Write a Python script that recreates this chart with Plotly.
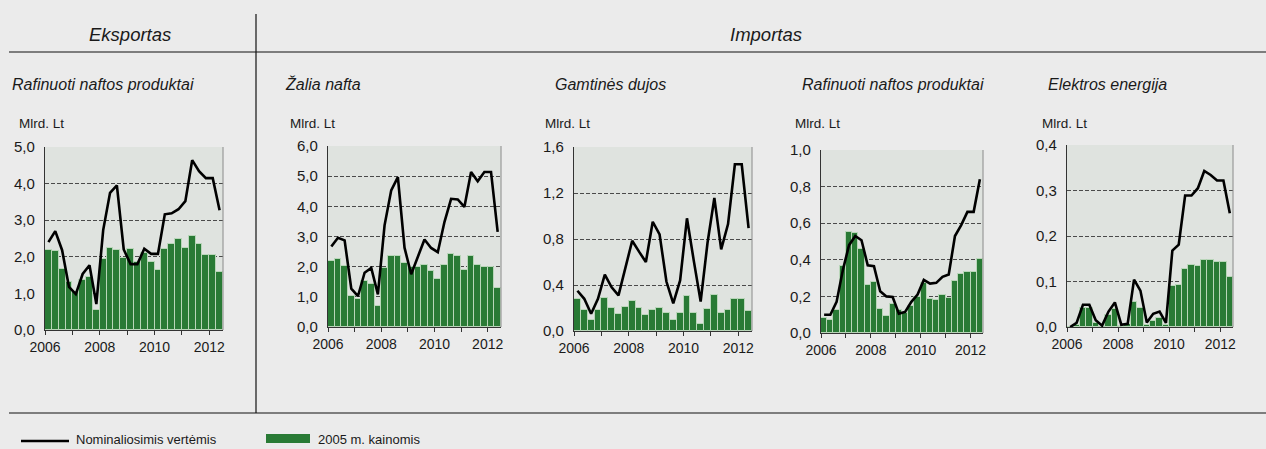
import plotly.graph_objects as go

# ---------------- data ----------------
quarters = ["2006Q1", "2006Q2", "2006Q3", "2006Q4", "2007Q1", "2007Q2", "2007Q3", "2007Q4",
            "2008Q1", "2008Q2", "2008Q3", "2008Q4", "2009Q1", "2009Q2", "2009Q3", "2009Q4",
            "2010Q1", "2010Q2", "2010Q3", "2010Q4", "2011Q1", "2011Q2", "2011Q3", "2011Q4",
            "2012Q1", "2012Q2"]

# Eksportas - Rafinuoti naftos produktai
exp_ref_real = [2.18, 2.16, 1.66, 1.30, 1.04, 1.36, 1.45, 0.55, 1.93, 2.25, 2.18, 1.97, 2.20,
                1.85, 2.11, 1.87, 1.65, 2.20, 2.36, 2.50, 2.25, 2.57, 2.35, 2.06, 2.06, 1.59]
exp_ref_nom = [2.40, 2.70, 2.18, 1.18, 0.98, 1.53, 1.77, 0.71, 2.73, 3.75, 3.95, 2.20, 1.80,
               1.80, 2.22, 2.08, 2.08, 3.16, 3.19, 3.30, 3.52, 4.64, 4.34, 4.15, 4.15, 3.27]

# Importas - Žalia nafta
imp_crude_real = [2.19, 2.24, 2.01, 1.04, 0.93, 1.51, 1.41, 0.69, 1.97, 2.34, 2.34, 2.13, 1.99,
                  1.99, 2.07, 1.85, 1.60, 2.07, 2.43, 2.35, 1.88, 2.34, 2.07, 1.98, 1.98, 1.30]
imp_crude_nom = [2.67, 2.96, 2.87, 1.27, 1.02, 1.80, 1.96, 1.08, 3.37, 4.53, 4.97, 2.63, 1.75,
                 2.34, 2.90, 2.62, 2.48, 3.48, 4.25, 4.23, 3.98, 5.14, 4.83, 5.14, 5.14, 3.15]

# Importas - Gamtinės dujos
imp_gas_real = [0.28, 0.18, 0.10, 0.18, 0.29, 0.20, 0.145, 0.21, 0.26, 0.20, 0.14, 0.18, 0.20,
                0.16, 0.10, 0.16, 0.305, 0.16, 0.064, 0.19, 0.31, 0.155, 0.18, 0.275, 0.275, 0.175]
imp_gas_nom = [0.35, 0.28, 0.15, 0.28, 0.49, 0.38, 0.31, 0.55, 0.785, 0.69, 0.60, 0.95, 0.84,
               0.43, 0.24, 0.44, 0.98, 0.61, 0.256, 0.765, 1.157, 0.71, 0.93, 1.45, 1.45, 0.895]

# Importas - Rafinuoti naftos produktai
imp_ref_real = [0.084, 0.07, 0.124, 0.365, 0.553, 0.544, 0.458, 0.26, 0.28, 0.13, 0.095, 0.16,
                0.124, 0.108, 0.15, 0.197, 0.274, 0.188, 0.179, 0.206, 0.19, 0.285, 0.32, 0.334,
                0.334, 0.403]
imp_ref_nom = [0.10, 0.10, 0.17, 0.343, 0.48, 0.53, 0.507, 0.37, 0.365, 0.228, 0.20, 0.197,
               0.106, 0.115, 0.17, 0.21, 0.29, 0.27, 0.274, 0.307, 0.32, 0.53, 0.59, 0.662,
               0.662, 0.84]

# Importas - Elektros energija
imp_el_real = [0.0, 0.005, 0.042, 0.042, 0.009, 0.0, 0.026, 0.040, 0.003, 0.007, 0.054, 0.042,
               0.005, 0.014, 0.019, 0.005, 0.091, 0.093, 0.128, 0.137, 0.135, 0.148, 0.148,
               0.142, 0.142, 0.110]
imp_el_nom = [0.0, 0.009, 0.049, 0.049, 0.015, 0.003, 0.034, 0.054, 0.005, 0.007, 0.104, 0.080,
              0.010, 0.029, 0.034, 0.009, 0.168, 0.181, 0.289, 0.289, 0.305, 0.343, 0.334,
              0.322, 0.322, 0.250]

year_ticks = [2006, 2007, 2008, 2009, 2010, 2011, 2012]
year_labels = ["2006", "", "2008", "", "2010", "", "2012"]

subtitles = ["Rafinuoti naftos produktai", "Žalia nafta", "Gamtinės dujos",
             "Rafinuoti naftos produktai", "Elektros energija"]
unit_label = "Mlrd. Lt"
y_ticks = [[0, 1, 2, 3, 4, 5], [0, 1, 2, 3, 4, 5, 6], [0, 0.4, 0.8, 1.2, 1.6],
           [0, 0.2, 0.4, 0.6, 0.8, 1.0], [0, 0.1, 0.2, 0.3, 0.4]]
y_ticktext = [["0,0", "1,0", "2,0", "3,0", "4,0", "5,0"],
              ["0,0", "1,0", "2,0", "3,0", "4,0", "5,0", "6,0"],
              ["0,0", "0,4", "0,8", "1,2", "1,6"],
              ["0,0", "0,2", "0,4", "0,6", "0,8", "1,0"],
              ["0,0", "0,1", "0,2", "0,3", "0,4"]]
real_series = [exp_ref_real, imp_crude_real, imp_gas_real, imp_ref_real, imp_el_real]
nom_series = [exp_ref_nom, imp_crude_nom, imp_gas_nom, imp_ref_nom, imp_el_nom]

legend_line = "Nominaliosimis vertėmis"
legend_bar = "2005 m. kainomis"

# ---------------- layout geometry (pixels) ----------------
W, H = 1266, 449
def fx(p): return p / W
def fy(p): return 1 - p / H

plot_boxes = [(45, 223, 147, 330), (328, 501, 146, 327), (574, 752, 147, 331),
              (821, 983, 150, 333), (1067, 1233, 145, 327)]
subtitle_x = [10, 283, 553, 800, 1046]
unit_x = [17, 288, 543, 793, 1040]

BAR = "#297a35"
TXT = "#1a1a1a"
FONT = "Liberation Sans, Arial, sans-serif"

# x position of each quarter (centre of the quarter, in years)
xpos = [int(q[:4]) + (int(q[-1]) - 1) / 4 + 0.125 for q in quarters]

fig = go.Figure()
shapes, annotations = [], []

for i in range(5):
    xa = "x" if i == 0 else f"x{i+1}"
    ya = "y" if i == 0 else f"y{i+1}"
    fig.add_trace(go.Bar(x=xpos, y=real_series[i], width=0.25, marker_color=BAR,
                         marker_line=dict(color="#b9d6b9", width=1),
                         xaxis=xa, yaxis=ya, showlegend=False, hoverinfo="x+y"))
    fig.add_trace(go.Scatter(x=xpos, y=nom_series[i], mode="lines",
                             line=dict(color="#000000", width=2.6),
                             xaxis=xa, yaxis=ya, showlegend=False))
    x0, x1, y0, y1 = plot_boxes[i]
    xkey = "xaxis" if i == 0 else f"xaxis{i+1}"
    ykey = "yaxis" if i == 0 else f"yaxis{i+1}"
    fig.layout[xkey] = dict(domain=[fx(x0), fx(x1)], anchor=ya, range=[2006, 2012.5],
                            tickvals=year_ticks, ticktext=year_labels, ticks="outside",
                            ticklen=4, tickcolor="#333", showgrid=False, showline=True,
                            linecolor="#333", linewidth=1.2, zeroline=False, automargin=False,
                            tickfont=dict(family=FONT, size=14, color=TXT), fixedrange=True)
    fig.layout[ykey] = dict(domain=[fy(y1), fy(y0)], anchor=xa,
                            range=[0, y_ticks[i][-1]], tickvals=y_ticks[i],
                            ticktext=y_ticktext[i], ticks="", showgrid=True,
                            gridcolor="#4a4a4a", griddash="4px,2px", gridwidth=1,
                            showline=True, linecolor="#333", linewidth=1.2,
                            zeroline=False, ticklabelstandoff=6, automargin=False,
                            tickfont=dict(family=FONT, size=15, color=TXT), fixedrange=True)
    # plot background and right border
    shapes.append(dict(type="rect", xref="paper", yref="paper", x0=fx(x0), x1=fx(x1),
                       y0=fy(y1), y1=fy(y0), fillcolor="#dfe3df", line=dict(width=0),
                       layer="below"))
    shapes.append(dict(type="line", xref="paper", yref="paper", x0=fx(x1), x1=fx(x1),
                       y0=fy(y1), y1=fy(y0), line=dict(color="#8a8a8a", width=1)))
    annotations.append(dict(x=fx(subtitle_x[i]), y=fy(84), xref="paper", yref="paper",
                            text=subtitles[i], showarrow=False, xanchor="left",
                            yanchor="middle",
                            font=dict(family=FONT, size=16, color=TXT, style="italic")))
    annotations.append(dict(x=fx(unit_x[i]), y=fy(123), xref="paper", yref="paper",
                            text=unit_label, showarrow=False, xanchor="left",
                            yanchor="middle", font=dict(family=FONT, size=13.5, color=TXT)))

# section headers and frame lines
annotations.append(dict(x=fx(130), y=fy(35), xref="paper", yref="paper", text="Eksportas",
                        showarrow=False, xanchor="center", yanchor="middle",
                        font=dict(family=FONT, size=18.5, color=TXT, style="italic")))
annotations.append(dict(x=fx(766), y=fy(35), xref="paper", yref="paper", text="Importas",
                        showarrow=False, xanchor="center", yanchor="middle",
                        font=dict(family=FONT, size=18.5, color=TXT, style="italic")))
shapes.append(dict(type="line", xref="paper", yref="paper", x0=fx(9), x1=1, y0=fy(52),
                   y1=fy(52), line=dict(color="#111", width=1.2)))
shapes.append(dict(type="line", xref="paper", yref="paper", x0=fx(9), x1=1, y0=fy(413),
                   y1=fy(413), line=dict(color="#111", width=1.2)))
shapes.append(dict(type="line", xref="paper", yref="paper", x0=fx(256), x1=fx(256),
                   y0=fy(14), y1=fy(413), line=dict(color="#111", width=1.2)))

# legend (drawn)
shapes.append(dict(type="line", xref="paper", yref="paper", x0=fx(21), x1=fx(69),
                   y0=fy(441), y1=fy(441), line=dict(color="#000", width=2.6)))
annotations.append(dict(x=fx(74), y=fy(439), xref="paper", yref="paper", text=legend_line,
                        showarrow=False, xanchor="left", yanchor="middle",
                        font=dict(family=FONT, size=13, color=TXT)))
shapes.append(dict(type="rect", xref="paper", yref="paper", x0=fx(266), x1=fx(310),
                   y0=fy(443), y1=fy(434), fillcolor=BAR, line=dict(width=0)))
annotations.append(dict(x=fx(316), y=fy(439), xref="paper", yref="paper", text=legend_bar,
                        showarrow=False, xanchor="left", yanchor="middle",
                        font=dict(family=FONT, size=13, color=TXT)))

fig.update_layout(width=W, height=H, margin=dict(l=0, r=0, t=0, b=0, pad=0),
                  paper_bgcolor="#ebebeb", plot_bgcolor="rgba(0,0,0,0)",
                  bargap=0, shapes=shapes, annotations=annotations, showlegend=False,
                  font=dict(family=FONT, color=TXT))

fig.write_html("out.html", config={"responsive": False, "displayModeBar": False},
               post_script="document.body.style.margin='0';"
                           "document.body.style.overflow='hidden';")
